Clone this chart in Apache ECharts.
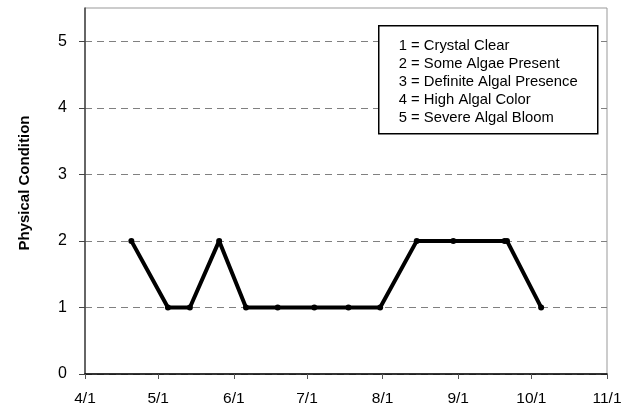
<!DOCTYPE html>
<html>
<head>
<meta charset="utf-8">
<script src="https://cdn.jsdelivr.net/npm/echarts@6/dist/echarts.min.js"></script>
<style>
html,body{margin:0;padding:0;background:#fff;}
#chart{width:639px;height:411px;}
</style>
</head>
<body>
<div id="chart"></div>
<script>
// ---- data ----
const sampleDates = ['4/20','5/5','5/14','5/26','6/6','6/19','7/4','7/18','7/31','8/15','8/30','9/20','9/21','10/5'];
const conditionValues = [2,1,1,2,1,1,1,1,1,2,2,2,2,1];
const monthTickLabels = ['4/1','5/1','6/1','7/1','8/1','9/1','10/1','11/1'];
const yTickValues = [0,1,2,3,4,5];
const legendLines = ['1 = Crystal Clear','2 = Some Algae Present','3 = Definite Algal Presence','4 = High Algal Color','5 = Severe Algal Bloom'];
const yAxisTitle = 'Physical Condition';

// convert "M/D" to days since 4/1
function dayOffset(md){
  const p = md.split('/');
  const d = Date.UTC(2005, +p[0]-1, +p[1]);
  const base = Date.UTC(2005, 3, 1);
  return Math.round((d-base)/86400000);
}
const monthTickValues = monthTickLabels.map(dayOffset);
const seriesData = sampleDates.map((d,i)=>[dayOffset(d), conditionValues[i]]);

const chart = echarts.init(document.getElementById('chart'), null, {renderer:'canvas'});
const font = "'Liberation Sans', Arial, sans-serif";

const legendGraphic = {
  type:'group', left:378, top:25, z:100,
  children:[
    {type:'rect', z:100, shape:{x:0,y:0,width:219,height:108}, style:{fill:'#fff', stroke:'#000', lineWidth:1.5}},
  ].concat(legendLines.map((t,i)=>({
    type:'text', z:101, x:20, y:20+i*18,
    style:{text:t, fill:'#000', font:"14.8px 'Liberation Sans', Arial, sans-serif", textVerticalAlign:'middle'}
  })))
};

chart.setOption({
  animation:false,
  backgroundColor:'#fff',
  grid:{left:85, right:32, top:8, bottom:37, show:true, borderColor:'#999', borderWidth:1, containLabel:false},
  xAxis:{
    type:'value', min:0, max:monthTickValues[monthTickValues.length-1],
    axisLine:{show:true, lineStyle:{color:'#000', width:1.5}},
    axisTick:{show:true, inside:false, length:5, customValues:monthTickValues, lineStyle:{color:'#555'}},
    axisLabel:{customValues:monthTickValues, margin:17, color:'#000', fontSize:15.5, fontFamily:font,
      formatter:function(v){const i=monthTickValues.indexOf(v); return i>=0?monthTickLabels[i]:'';}},
    splitLine:{show:false}
  },
  yAxis:{
    type:'value', min:0, max:5.5, interval:1,
    name:yAxisTitle, nameLocation:'middle', nameGap:53, nameRotate:90,
    nameTextStyle:{fontSize:15, fontWeight:'bold', color:'#000', fontFamily:font, padding:[0,0,0,16]},
    axisLine:{show:true, lineStyle:{color:'#444', width:1.5}},
    axisTick:{show:true, length:6, customValues:yTickValues, lineStyle:{color:'#444'}},
    axisLabel:{customValues:yTickValues, margin:18, color:'#000', fontSize:16, fontFamily:font},
    splitLine:{show:true, lineStyle:{color:'#808080', type:[7,5], width:1}}
  },
  series:[{
    type:'line', data:seriesData,
    lineStyle:{color:'#000', width:4},
    itemStyle:{color:'#000'},
    symbol:'circle', symbolSize:6, showSymbol:true,
    z:5
  }],
  graphic:[legendGraphic]
});
</script>
</body>
</html>
